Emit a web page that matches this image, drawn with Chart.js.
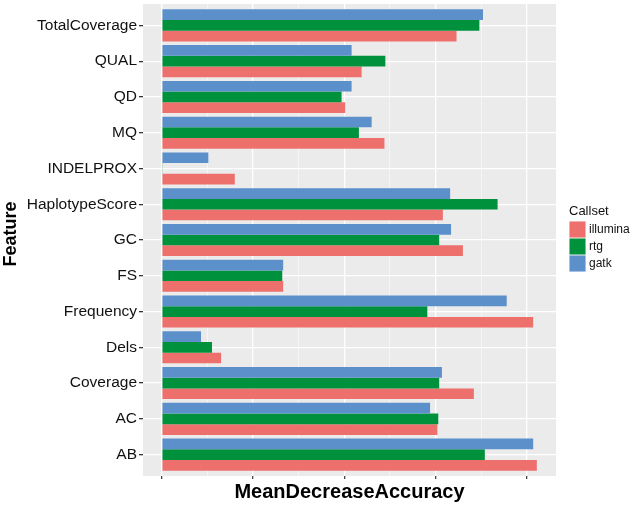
<!DOCTYPE html>
<html>
<head>
<meta charset="utf-8">
<script src="https://cdn.jsdelivr.net/npm/chart.js@4/dist/chart.umd.min.js"></script>
<style>
html, body { margin: 0; padding: 0; background: #fff; }
</style>
</head>
<body>
<canvas id="myChart" width="633" height="506"></canvas>
<script>
// features top to bottom
const features = ['TotalCoverage', 'QUAL', 'QD', 'MQ', 'INDELPROX', 'HaplotypeScore', 'GC', 'FS', 'Frequency', 'Dels', 'Coverage', 'AC', 'AB'];
const illumina = [32.3, 21.9, 20.1, 24.4, 8.0, 30.8, 33.0, 13.3, 40.7, 6.5, 34.2, 30.2, 41.1];
const rtg      = [34.8, 24.5, 19.7, 21.6, 0.05, 36.8, 30.4, 13.2, 29.1, 5.5, 30.4, 30.3, 35.4];
const gatk     = [35.2, 20.8, 20.8, 23.0, 5.1, 31.6, 31.7, 13.3, 37.8, 4.3, 30.7, 29.4, 40.7];
const callsets = ['illumina', 'rtg', 'gatk'];
const colors = { illumina: '#EE706D', rtg: '#00913D', gatk: '#5B90CB' };

function toPoints(arr) {
    return arr.map((v, i) => ({ x: v, y: i }));
}

const panelBg = {
    id: 'panelBg',
    beforeDraw(chart) {
        const a = chart.chartArea;
        const ctx = chart.ctx;
        ctx.save();
        ctx.fillStyle = '#EBEBEB';
        ctx.fillRect(a.left, a.top, a.right - a.left, a.bottom - a.top);
        ctx.restore();
    }
};

// ggplot style legend at the right, plus the rotated y title
const sideLegend = {
    id: 'sideLegend',
    afterDraw(chart) {
        const ctx = chart.ctx;
        const x = 569, y0 = 221, box = 17;
        ctx.save();
        ctx.fillStyle = '#111';
        ctx.font = '13px "Liberation Sans", Arial, sans-serif';
        ctx.textBaseline = 'middle';
        ctx.textAlign = 'left';
        ctx.fillText('Callset', x, 211);
        ctx.font = '12px "Liberation Sans", Arial, sans-serif';
        callsets.forEach((name, i) => {
            ctx.fillStyle = '#F2F2F2';
            ctx.fillRect(x, y0 + i * box, box, box);
            ctx.fillStyle = colors[name];
            ctx.fillRect(x + 0.5, y0 + i * box + 0.5, box - 1, box - 1);
            ctx.fillStyle = '#111';
            ctx.fillText(name, x + box + 3, y0 + i * box + box / 2);
        });

        ctx.translate(11, 234);
        ctx.rotate(-Math.PI / 2);
        ctx.textAlign = 'center';
        ctx.fillStyle = '#000';
        ctx.font = 'bold 18px "Liberation Sans", Arial, sans-serif';
        ctx.fillText('Feature', 0, 0);
        ctx.restore();
    }
};

const ctx = document.getElementById('myChart').getContext('2d');
const chart = new Chart(ctx, {
    type: 'bar',
    data: {
        datasets: [
            { label: 'gatk', data: toPoints(gatk), backgroundColor: colors.gatk },
            { label: 'rtg', data: toPoints(rtg), backgroundColor: colors.rtg },
            { label: 'illumina', data: toPoints(illumina), backgroundColor: colors.illumina }
        ]
    },
    options: {
        indexAxis: 'y',
        responsive: false,
        animation: false,
        devicePixelRatio: 1,
        categoryPercentage: 0.9,
        barPercentage: 1.0,
        layout: { padding: { top: 4, right: 77, bottom: 0, left: 0 } },
        plugins: {
            legend: { display: false },
            tooltip: { enabled: false }
        },
        scales: {
            x: {
                type: 'linear',
                min: -2.06,
                max: 43.2,
                offset: false,
                border: { display: false },
                grid: {
                    offset: false,
                    color: c => (c.tick && c.tick.value % 10 === 0) ? '#FFFFFF' : 'rgba(255,255,255,0.75)',
                    lineWidth: c => (c.tick && c.tick.value % 10 === 0) ? 1.3 : 0.7,
                    tickColor: c => (c.tick && c.tick.value % 10 === 0) ? '#444' : 'rgba(0,0,0,0)',
                    tickLength: 3
                },
                ticks: { display: false, stepSize: 5, includeBounds: false },
                title: {
                    display: true,
                    text: 'MeanDecreaseAccuracy',
                    color: '#000',
                    font: { family: '"Liberation Sans", Arial, sans-serif', size: 20, weight: 'bold' },
                    padding: { top: 0, bottom: 2 }
                },
                afterFit(scale) {
                    scale.height = 30;
                    scale.paddingLeft = 0;
                    scale.paddingRight = 0;
                }
            },
            y: {
                type: 'linear',
                min: -0.6,
                max: 12.6,
                reverse: true,
                offset: false,
                border: { display: false },
                grid: {
                    offset: false,
                    color: '#FFFFFF',
                    lineWidth: 1.3,
                    tickColor: '#333',
                    tickLength: 4
                },
                ticks: {
                    stepSize: 1,
                    includeBounds: false,
                    autoSkip: false,
                    padding: 2,
                    color: '#111',
                    font: { family: '"Liberation Sans", Arial, sans-serif', size: 15.5 },
                    callback: v => Number.isInteger(v) ? features[v] : ''
                },
                afterFit(scale) {
                    scale.width = 143;
                    scale.paddingTop = 0;
                    scale.paddingBottom = 0;
                }
            }
        }
    },
    plugins: [panelBg, sideLegend]
});
</script>
</body>
</html>
